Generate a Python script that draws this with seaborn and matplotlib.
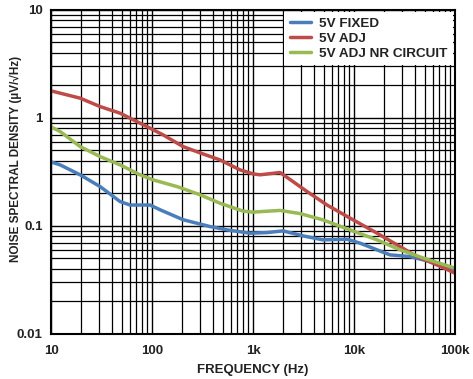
import numpy as np
import pandas as pd
import matplotlib
matplotlib.use("Agg")
import matplotlib.pyplot as plt
import matplotlib.ticker as mticker
import seaborn as sns

# -------------------------
# Data (Hz, uV/rtHz)
# -------------------------
fixed_freq = [10, 12.3, 19.4, 30.6, 48.2, 60.6, 95.5, 120, 203, 375, 553, 934,
              1376, 1982, 3126, 4934, 8522, 11467, 16890, 22720, 35850, 56550,
              100000]
fixed_nsd = [0.391, 0.367, 0.297, 0.231, 0.168, 0.156, 0.156, 0.141, 0.114,
             0.0986, 0.0918, 0.0856, 0.0867, 0.0899, 0.0808, 0.0742, 0.0753,
             0.0692, 0.060, 0.0539, 0.052, 0.0467, 0.0377]

adj_freq = [10, 12.3, 19.4, 30.6, 48.2, 76.1, 95.5, 128.5, 203, 299, 471, 743,
            1000, 1173, 1851, 2489, 3424, 5404, 9130, 16890, 28530, 42050,
            66330, 100000]
adj_nsd = [1.778, 1.693, 1.522, 1.272, 1.105, 0.893, 0.803, 0.696, 0.542, 0.474,
           0.408, 0.330, 0.303, 0.297, 0.312, 0.257, 0.208, 0.156, 0.118, 0.0856,
           0.0643, 0.052, 0.0435, 0.0365]

nr_freq = [10, 12.3, 19.4, 30.6, 48.2, 76.1, 102, 177, 299, 471, 796, 1000,
           1256, 1851, 2920, 4934, 9130, 16890, 28530, 48230, 100000]
nr_nsd = [0.825, 0.747, 0.542, 0.438, 0.367, 0.297, 0.267, 0.231, 0.194, 0.162,
          0.137, 0.134, 0.136, 0.139, 0.130, 0.1136, 0.0918, 0.0742, 0.060,
          0.0505, 0.0406]

series_names = ["5V FIXED", "5V ADJ", "5V ADJ NR CIRCUIT"]
series_colors = ["#4a7ebb", "#be4b48", "#98b954"]

x_ticks = [10, 100, 1000, 10000, 100000]
x_labels = ["10", "100", "1k", "10k", "100k"]
y_ticks = [0.01, 0.1, 1, 10]
y_labels = ["0.01", "0.1", "1", "10"]

df = pd.concat([
    pd.DataFrame({"freq": fixed_freq, "nsd": fixed_nsd, "series": series_names[0]}),
    pd.DataFrame({"freq": adj_freq, "nsd": adj_nsd, "series": series_names[1]}),
    pd.DataFrame({"freq": nr_freq, "nsd": nr_nsd, "series": series_names[2]}),
])

# -------------------------
# Style
# -------------------------
sns.set_style("white")
plt.rcParams["font.family"] = ["Liberation Sans", "DejaVu Sans"]

fig = plt.figure(figsize=(4.73, 3.79), dpi=100)
ax = fig.add_axes([0.108, 0.119, 0.854, 0.855])

ax.set_xscale("log")
ax.set_yscale("log")
ax.set_xlim(10, 100000)
ax.set_ylim(0.01, 10)

ax.grid(True, which="major", color="black", linewidth=1.0)
ax.grid(True, which="minor", color="black", linewidth=0.9)
ax.set_axisbelow(True)

sns.lineplot(data=df, x="freq", y="nsd", hue="series", hue_order=series_names,
             palette=series_colors, linewidth=2.5, ax=ax, estimator=None,
             sort=False)

ax.xaxis.set_major_locator(mticker.FixedLocator(x_ticks))
ax.xaxis.set_major_formatter(mticker.FixedFormatter(x_labels))
ax.yaxis.set_major_locator(mticker.FixedLocator(y_ticks))
ax.yaxis.set_major_formatter(mticker.FixedFormatter(y_labels))
ax.xaxis.set_minor_locator(mticker.LogLocator(base=10, subs=np.arange(2, 10)))
ax.yaxis.set_minor_locator(mticker.LogLocator(base=10, subs=np.arange(2, 10)))
ax.xaxis.set_minor_formatter(mticker.NullFormatter())
ax.yaxis.set_minor_formatter(mticker.NullFormatter())
ax.tick_params(which="both", length=0, labelsize=9.5, colors="#222222")
ax.tick_params(axis="y", pad=6)
ax.tick_params(axis="x", pad=8)
for lab in ax.get_xticklabels() + ax.get_yticklabels():
    lab.set_fontweight("bold")

for sp in ax.spines.values():
    sp.set_color("black")
    sp.set_linewidth(1.5)

ax.set_xlabel("FREQUENCY (Hz)", fontsize=9.5, fontweight="bold", color="#222222", labelpad=5)
ax.set_ylabel("NOISE SPECTRAL DENSITY (µV/√Hz)", fontsize=8.5, fontweight="bold",
              color="#222222")
ax.yaxis.set_label_coords(-0.073, 0.54)

leg = ax.legend(loc="upper right", fontsize=9.7, frameon=True, fancybox=False,
                framealpha=1, facecolor="white", edgecolor="none",
                borderaxespad=0.15, handlelength=1.6, handletextpad=0.6,
                labelspacing=0.2, borderpad=0.4)
for t in leg.get_texts():
    t.set_fontweight("bold")
    t.set_color("#222222")
leg.get_frame().set_linewidth(0)

fig.savefig("out.png", dpi=100)
